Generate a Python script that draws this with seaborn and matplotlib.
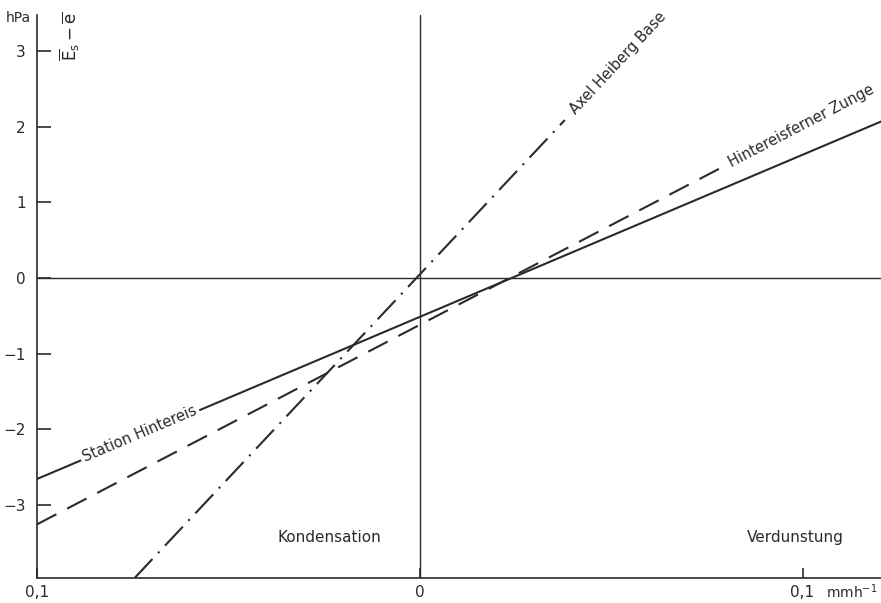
import numpy as np
import pandas as pd
import matplotlib
matplotlib.use("Agg")
import matplotlib.pyplot as plt
import seaborn as sns

# values (x in mm/h, y in hPa)
station_x = [-0.1, 0.1205]
station_y = [-2.66, 2.07]
zunge_x = [-0.1, 0.0784]
zunge_y = [-3.26, 1.45]
axel_x = [-0.0745, 0.0379]
axel_y = [-3.97, 2.09]

y_ticks = [-3, -2, -1, 0, 1, 2, 3]
x_ticks = [-0.1, 0, 0.1]
x_tick_labels = ["0,1", "0", "0,1"]

df = pd.concat([
    pd.DataFrame({"x": station_x, "y": station_y, "line": "Station Hintereis"}),
    pd.DataFrame({"x": zunge_x, "y": zunge_y, "line": "Hintereisferner Zunge"}),
    pd.DataFrame({"x": axel_x, "y": axel_y, "line": "Axel Heiberg Base"}),
])

sns.set_theme(style="white")
plt.rcParams["font.family"] = ["DejaVu Sans"]
ink = "#2a2a2a"

fig = plt.figure(figsize=(8.81, 6.03), dpi=100)
ax = fig.add_axes([37 / 881, 25 / 603, 1 - 37 / 881, 563 / 603])

sns.lineplot(data=df, x="x", y="y", style="line", hue="line",
             palette={k: ink for k in df["line"].unique()},
             dashes={"Station Hintereis": "",
                     "Hintereisferner Zunge": (10.5, 5.8),
                     "Axel Heiberg Base": (12.5, 3.9, 1, 3.9)},
             linewidth=1.5, legend=False, ax=ax, sort=False)

ax.set_xlim(-0.1, 0.1205)
ax.set_ylim(-3.97, 3.48)

# zero lines
ax.axhline(0, color=ink, lw=1.0, zorder=1)
ax.axvline(0, color=ink, lw=1.0, zorder=1)

for s in ["top", "right"]:
    ax.spines[s].set_visible(False)
for s in ["left", "bottom"]:
    ax.spines[s].set_color(ink)
    ax.spines[s].set_linewidth(1.2)

ax.set_yticks(y_ticks)
ax.set_yticklabels([str(v).replace("-", "\u2212") for v in y_ticks])
ax.set_xticks(x_ticks)
ax.set_xticklabels(x_tick_labels)
ax.tick_params(axis="y", left=True, direction="in", length=10, width=1.2, color=ink,
               labelsize=11, labelcolor=ink, pad=8)
ax.tick_params(axis="x", bottom=True, direction="in", length=7, width=1.2, color=ink,
               labelsize=11, labelcolor=ink, pad=5)
ax.set_xlabel("")
ax.set_ylabel("")

# line labels
ax.text(-0.0732, -2.06, "Station Hintereis", rotation=23, ha="center", va="center",
        rotation_mode="anchor", fontsize=10.5, color=ink,
        bbox=dict(facecolor="white", edgecolor="none", pad=2))
ax.text(0.0398, 2.2, "Axel Heiberg Base", rotation=47, ha="left", va="center",
        rotation_mode="anchor", fontsize=10.5, color=ink)
ax.text(0.0808, 1.52, "Hintereisferner Zunge", rotation=27.5, ha="left", va="center",
        rotation_mode="anchor", fontsize=10.5, color=ink)

ax.text(-0.0235, -3.43, "Kondensation", ha="center", va="center", fontsize=11, color=ink)
ax.text(0.098, -3.43, "Verdunstung", ha="center", va="center", fontsize=11, color=ink)

fig.text(18 / 881, 1 - 18 / 603, "hPa", ha="center", va="center", fontsize=10, color=ink)
fig.text(70 / 881, 1 - 36 / 603,
         r"$\overline{\mathrm{E}}_\mathrm{s} - \overline{\mathrm{e}}$", rotation=90,
         ha="center", va="center", fontsize=12, color=ink)
fig.text(852 / 881, 1 - 592 / 603, r"mmh$^{-1}$", ha="center", va="center",
         fontsize=10, color=ink)

fig.savefig("out.png", dpi=100, facecolor="white")
